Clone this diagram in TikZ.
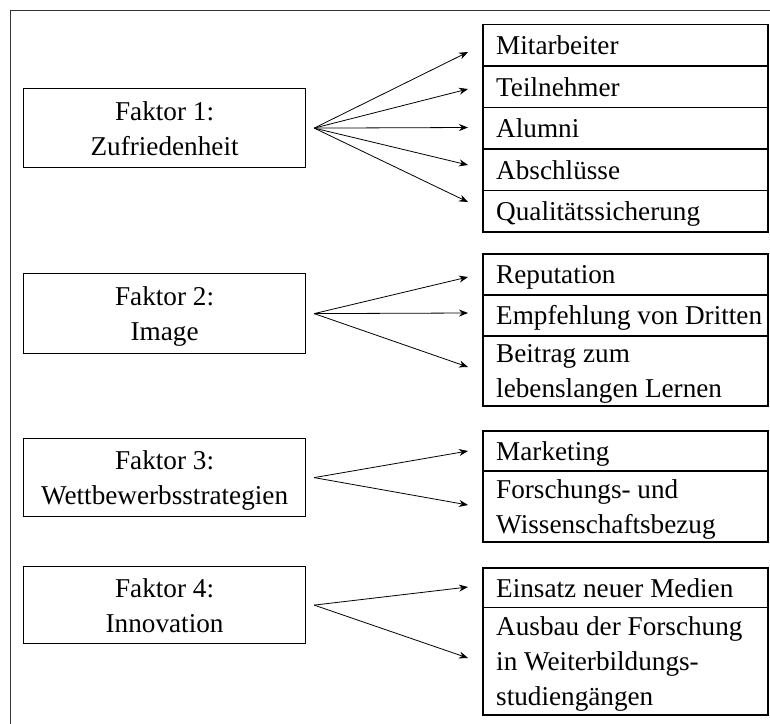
\documentclass[tikz,border=0pt]{standalone}
\usepackage{fontspec}
\setmainfont{Liberation Serif}
\usetikzlibrary{arrows.meta}
\newcommand\diagfont{\fontsize{27.2}{35}\selectfont}
\begin{document}
\begin{tikzpicture}[x=1pt,y=-1pt,
  frame/.style={draw=black!80, line width=1pt},
  factor/.style={draw, line width=1.2pt, minimum width=282pt, minimum height=#1,
    anchor=north west, align=center, text depth=0pt, inner sep=0pt, font=\diagfont},
  item/.style={draw, line width=1.8pt, minimum width=285pt, minimum height=#1,
    anchor=north west, inner sep=0pt},
  itemtext/.style={anchor=west, align=left, inner sep=0pt, text depth=0pt, font=\diagfont},
  arr/.style={-{Stealth[length=9pt,width=7pt]}, line width=0.8pt}]
\useasboundingbox (0,0) rectangle (770,723);

% outer frame (only its top and left sides lie on the page)
\draw[frame] (10,740) -- (10,10) -- (790,10);

% factor boxes
\node[factor=79pt] (f1) at (23,88)  {Faktor 1:\\Zufriedenheit};
\node[factor=80pt] (f2) at (23,273) {Faktor 2:\\Image};
\node[factor=78pt] (f3) at (23,438) {Faktor 3:\\Wettbewerbsstrategien};
\node[factor=77pt] (f4) at (23,566) {Faktor 4:\\Innovation};

% fan-out points just right of each factor box
\coordinate (a1) at ([xshift=8pt]f1.east);
\coordinate (a2) at ([xshift=8pt]f2.east);
\coordinate (a3) at ([xshift=8pt]f3.east);
\coordinate (a4) at ([xshift=8pt]f4.east);

% item rows, group 1
\node[item=41.5pt] (r11) at (482,23.5)  {};
\node[item=41.5pt] (r12) at (482,65)    {};
\node[item=41.5pt] (r13) at (482,106.5) {};
\node[item=41.5pt] (r14) at (482,148)   {};
\node[item=41.5pt] (r15) at (482,189.5) {};
\node[itemtext] (l11) at ([xshift=14pt]r11.west) {Mitarbeiter};
\node[itemtext] (l12) at ([xshift=14pt]r12.west) {Teilnehmer};
\node[itemtext] (l13) at ([xshift=14pt]r13.west) {Alumni};
\node[itemtext] (l14) at ([xshift=14pt]r14.west) {Abschlüsse};
\node[itemtext] (l15) at ([xshift=14pt]r15.west) {Qualitätssicherung};

% group 2
\node[item=41pt] (r21) at (482,253) {};
\node[item=41pt] (r22) at (482,294) {};
\node[item=70pt] (r23) at (482,335) {};
\node[itemtext] (l21) at ([xshift=14pt]r21.west) {Reputation};
\node[itemtext] (l22) at ([xshift=14pt]r22.west) {Empfehlung von Dritten};
\node[itemtext] (l23) at ([xshift=14pt]r23.west) {Beitrag zum\\lebenslangen Lernen};

% group 3
\node[item=40pt] (r31) at (482,430) {};
\node[item=71pt] (r32) at (482,470) {};
\node[itemtext] (l31) at ([xshift=14pt]r31.west) {Marketing};
\node[itemtext] (l32) at ([xshift=14pt]r32.west) {Forschungs- und\\Wissenschaftsbezug};

% group 4
\node[item=39.5pt]  (r41) at (482,567)   {};
\node[item=107.5pt] (r42) at (482,606.5) {};
\node[itemtext] (l41) at ([xshift=14pt]r41.west) {Einsatz neuer Medien};
\node[itemtext] (l42) at ([xshift=14pt]r42.west) {Ausbau der Forschung\\in Weiterbildungs-\\studiengängen};

% arrow tips in front of the item rows
\coordinate (t11) at (468,52);
\coordinate (t12) at (468,89);
\coordinate (t13) at (468,127.5);
\coordinate (t14) at (468,165);
\coordinate (t15) at (468,202);
\coordinate (t21) at (468,277);
\coordinate (t22) at (468,313);
\coordinate (t23) at (468,367);
\coordinate (t31) at (468,451);
\coordinate (t32) at (468,505);
\coordinate (t41) at (468,587);
\coordinate (t42) at (468,658);

\foreach \t in {t11,t12,t13,t14,t15} \draw[arr] (a1) -- (\t);
\foreach \t in {t21,t22,t23} \draw[arr] (a2) -- (\t);
\foreach \t in {t31,t32} \draw[arr] (a3) -- (\t);
\foreach \t in {t41,t42} \draw[arr] (a4) -- (\t);
\end{tikzpicture}
\end{document}
